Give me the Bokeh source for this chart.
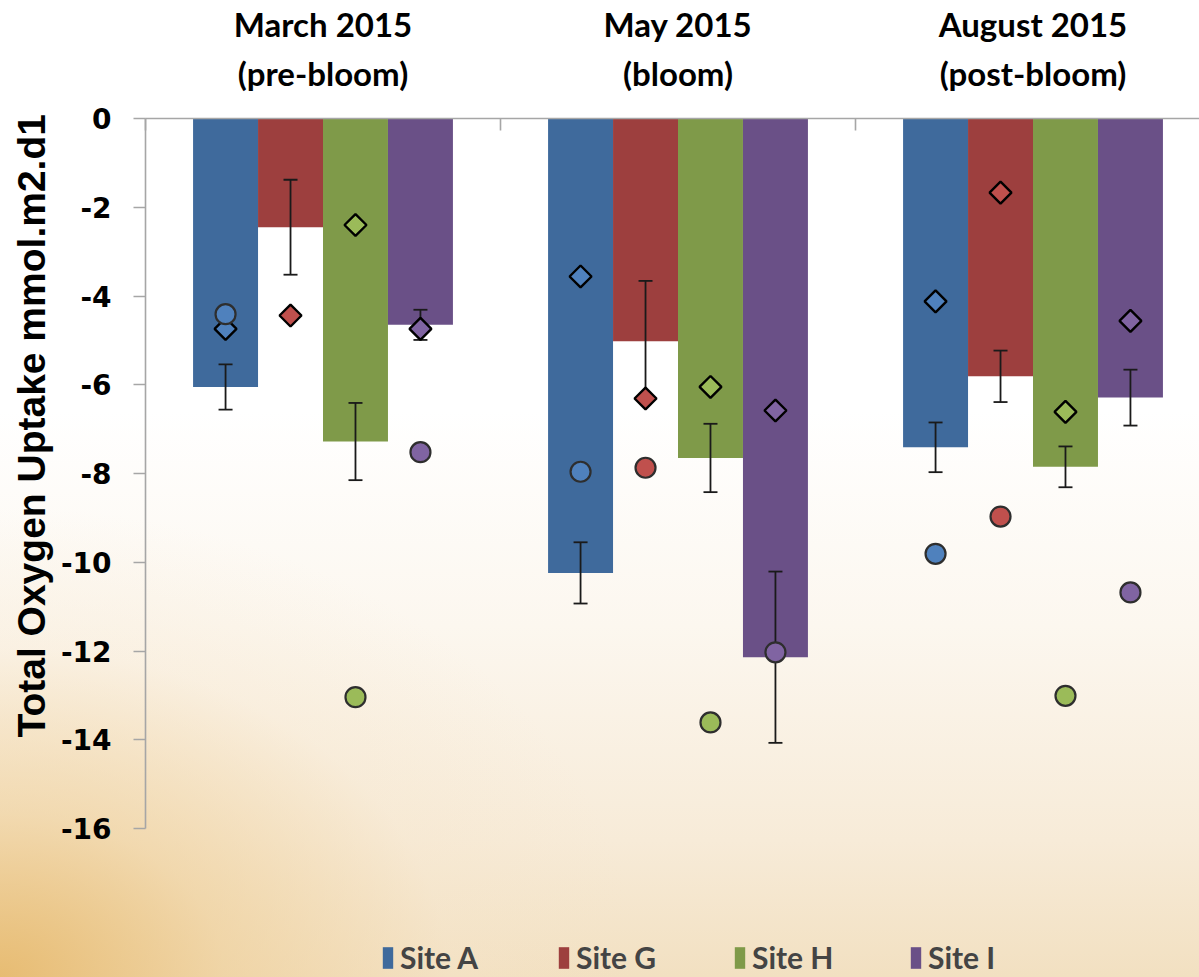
import numpy as np
from bokeh.plotting import figure
from bokeh.models import Range1d, FixedTicker, Legend, LegendItem, LinearAxis, Title
from bokeh.embed import file_html
from bokeh.resources import INLINE

# ---- data -------------------------------------------------------------
periods = ["March 2015", "May 2015", "August 2015"]
phases = ["(pre-bloom)", "(bloom)", "(post-bloom)"]
sites = ["Site A", "Site G", "Site H", "Site I"]

# total oxygen uptake (mmol m-2 d-1), bar = mean, one value per period
uptake_mean = {
    "Site A": [-6.05, -10.24, -7.41],
    "Site G": [-2.45, -5.02, -5.81],
    "Site H": [-7.28, -7.65, -7.85],
    "Site I": [-4.65, -12.14, -6.29],
}
uptake_sd = {
    "Site A": [0.51, 0.69, 0.56],
    "Site G": [1.07, 1.36, 0.58],
    "Site H": [0.87, 0.77, 0.46],
    "Site I": [0.34, 1.93, 0.63],
}
# individual estimates shown as diamonds and circles
diamond_uptake = {
    "Site A": [-4.74, -3.56, -4.12],
    "Site G": [-4.44, -6.31, -1.67],
    "Site H": [-2.40, -6.05, -6.61],
    "Site I": [-4.74, -6.58, -4.56],
}
circle_uptake = {
    "Site A": [-4.41, -7.96, -9.81],
    "Site G": [np.nan, -7.87, -8.97],
    "Site H": [-13.04, -13.61, -13.01],
    "Site I": [-7.52, -12.03, -10.68],
}
y_ticks = [0, -2, -4, -6, -8, -10, -12, -14, -16]

bar_colors = {"Site A": "#3F6A9C", "Site G": "#9D3F3E", "Site H": "#7F9A49", "Site I": "#6A5087"}
marker_colors = {"Site A": "#4F81BD", "Site G": "#C0504D", "Site H": "#9BBB59", "Site I": "#8064A2"}

# ---- figure -----------------------------------------------------------
BAR_W = 0.183          # width of one bar, in period units
X_END = 2.969          # frame is cut at the right edge of the canvas
PX_PER_UNIT = 44.375   # 16 units over 710 px
Y_LOW = -16 - 149 / PX_PER_UNIT   # frame runs down to the canvas bottom (legend area)

p = figure(
    width=1199, height=977,
    x_range=Range1d(0, X_END), y_range=Range1d(Y_LOW, 0),
    x_axis_location="above", y_axis_location="left",
    output_backend="svg", toolbar_location=None,
    min_border_left=145, min_border_right=0,
    min_border_top=118, min_border_bottom=0,
)
p.background_fill_color = None
p.border_fill_color = None
p.outline_line_color = None
p.xgrid.visible = False
p.ygrid.visible = False
p.styles = {
    "background": (
        "radial-gradient(ellipse 640px 470px at 0% 100%, rgba(230,184,106,0.9) 0%, "
        "rgba(238,205,148,0.6) 35%, rgba(246,228,200,0.28) 70%, rgba(255,255,255,0) 100%), "
        "linear-gradient(to top, #F2E0C1 0%, #F7EBD8 14%, #FCF7EF 36%, #FFFFFF 58%)"
    )
}

group_centers = np.arange(len(periods)) + 0.5
GREY = "#A6A6A6"

# inner top axis: period separators (minor ticks) and phase labels
xa = p.xaxis[0]
xa.ticker = FixedTicker(ticks=list(group_centers), minor_ticks=[0, 1, 2, 3])
xa.major_label_overrides = {float(c): t for c, t in zip(group_centers, phases)}
xa.major_tick_in = 0
xa.major_tick_out = 0
xa.minor_tick_in = 12
xa.minor_tick_out = 0
xa.minor_tick_line_color = GREY
xa.minor_tick_line_width = 1.6
xa.axis_line_color = GREY
xa.axis_line_width = 1.6
xa.major_label_standoff = 26
xa.major_label_text_font = "Lato"
xa.major_label_text_font_style = "bold"
xa.major_label_text_font_size = "33px"
xa.major_label_text_color = "#000000"

# outer top axis: period names
xa2 = LinearAxis(ticker=FixedTicker(ticks=list(group_centers), minor_ticks=[]))
xa2.major_label_overrides = {float(c): t for c, t in zip(group_centers, periods)}
xa2.axis_line_color = None
xa2.major_tick_line_color = None
xa2.minor_tick_line_color = None
xa2.major_tick_in = 0
xa2.major_tick_out = 0
xa2.major_label_standoff = 6
xa2.major_label_text_font = "Lato"
xa2.major_label_text_font_style = "bold"
xa2.major_label_text_font_size = "33px"
xa2.major_label_text_color = "#000000"
p.add_layout(xa2, "above")

ya = p.yaxis[0]
ya.bounds = (-16, 0)
ya.ticker = FixedTicker(ticks=y_ticks)
ya.major_label_overrides = {t: str(t) for t in y_ticks}
ya.major_label_text_font = "DejaVu Sans"
ya.major_label_text_font_style = "bold"
ya.major_label_text_font_size = "28px"
ya.major_label_text_color = "#000000"
ya.major_label_standoff = 22
ya.major_tick_in = 0
ya.major_tick_out = 12
ya.minor_tick_line_color = None
ya.axis_line_color = GREY
ya.axis_line_width = 1.6
ya.major_tick_line_color = GREY
ya.major_tick_line_width = 1.6

# y axis title, anchored near the lower end of the axis
p.add_layout(Title(text="Total Oxygen Uptake mmol.m2.d1", align="left", offset=240,
                   text_font="Liberation Sans", text_font_style="bold",
                   text_font_size="39px", text_color="#000000", standoff=10), "left")

bar_renderers = {}
xs = {}
for i, s in enumerate(sites):
    x = group_centers + (i - 1.5) * BAR_W
    xs[s] = x
    bar_renderers[s] = p.vbar(x=x, top=0, bottom=uptake_mean[s], width=BAR_W,
                              fill_color=bar_colors[s], line_color=None)

# error bars: stems and caps
for s in sites:
    m = np.array(uptake_mean[s])
    sd = np.array(uptake_sd[s])
    p.segment(x0=xs[s], y0=m + sd, x1=xs[s], y1=m - sd, line_color="#1A1A1A", line_width=1.8)
    p.scatter(x=np.concatenate([xs[s], xs[s]]), y=np.concatenate([m + sd, m - sd]),
              marker="dash", size=14, line_color="#1A1A1A", line_width=1.8)

# diamonds, then circles on top
for s in sites:
    p.scatter(x=xs[s], y=diamond_uptake[s], marker="square", angle=np.pi / 4, size=15.5,
              fill_color=marker_colors[s], line_color="#000000", line_width=2.4)
for s in sites:
    p.scatter(x=xs[s], y=circle_uptake[s], marker="circle", size=20,
              fill_color=marker_colors[s], line_color="#2E2E2E", line_width=2.2)

legend = Legend(
    items=[LegendItem(label=s, renderers=[bar_renderers[s]]) for s in sites],
    orientation="horizontal", location=(236, 2),
    glyph_width=13, glyph_height=27, label_standoff=6, label_width=150, spacing=7,
    padding=0, margin=0, border_line_color=None, background_fill_alpha=0,
    label_text_font="Lato", label_text_font_style="bold", label_text_font_size="30px",
    label_height=28,
)
p.add_layout(legend, "center")

open("out.html", "w").write(file_html(p, INLINE))
